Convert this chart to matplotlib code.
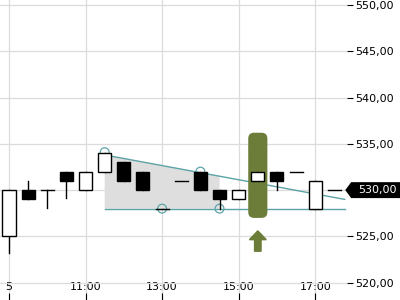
import numpy as np
import matplotlib
matplotlib.use("Agg")
import matplotlib.pyplot as plt
from matplotlib.patches import Rectangle, FancyBboxPatch, FancyArrow, Polygon
import matplotlib.transforms as mtransforms

matplotlib.rcParams.update({'font.size': 8})

# candles, half-hour bars (time in hours)
times = [9.0, 9.5, 10.0, 10.5, 11.0, 11.5, 12.0, 12.5, 13.0, 13.5, 14.0, 14.5, 15.0, 15.5, 16.0, 16.5, 17.0, 17.5]
opens = [525, 530, 530, 532, 530, 532, 533, 532, 528, 531, 532, 530, 529, 531, 532, 532, 528, 530]
highs = [530, 531, 530, 532, 532, 534, 533, 532, 528, 531, 532, 530, 530, 532, 532, 532, 531, 530]
lows = [523.2, 529, 528.1, 529.1, 530, 532, 531, 530, 528, 531, 530, 528, 529, 531, 530, 532, 528, 530]
closes = [530, 529, 530, 531, 532, 534, 531, 530, 528, 531, 530, 529, 530, 532, 531, 532, 531, 530]

# triangle pattern
pattern_start = 11.5
pattern_end = 14.5
line_end = 17.77
top_start = 533.8
top_end = 529.0
support = 528.0
touch_times = [11.5, 13.0, 14.0, 14.5]
touch_values = [534.1, 528.0, 532.0, 528.0]

# breakout signal
signal_time = 15.5
signal_top = 536.2
signal_bottom = 527.0
arrow_top = 525.6
arrow_bottom = 523.4

last_price = 530.0
xtick_pos = [9, 11, 13, 15, 17]
xtick_labels = ["5", "11:00", "13:00", "15:00", "17:00"]
ytick_pos = [520, 525, 530, 535, 540, 545, 550]

teal = "#5ba3a6"
olive = "#6b7d39"


def fmt(v):
    return f"{v:.2f}".replace(".", ",")


fig = plt.figure(figsize=(4, 3), dpi=100)
ax = fig.add_axes([0, 0, 347 / 400, 1])
ax.set_xlim(8.765, 17.83)
ax.set_ylim(518.13, 550.54)

ax.grid(True, color="#dcdcdc", linewidth=0.9)
ax.set_axisbelow(True)
for s in ax.spines.values():
    s.set_visible(False)

# pattern shading and lines
slope = (top_end - top_start) / (line_end - pattern_start)
top_at_end = top_start + slope * (pattern_end - pattern_start)
ax.add_patch(Polygon([(pattern_start, support), (pattern_start, top_start),
                      (pattern_end, top_at_end), (pattern_end, support)],
                     closed=True, facecolor="#dedede", edgecolor="none", zorder=1))
ax.plot([pattern_start, line_end], [top_start, top_end], color=teal, lw=1, zorder=2)
ax.plot([pattern_start, line_end], [support, support], color=teal, lw=1, zorder=2)

# signal bar and arrow
w = 0.5
ax.add_patch(FancyBboxPatch((signal_time - w / 2, signal_bottom), w, signal_top - signal_bottom,
                            boxstyle="round,pad=0,rounding_size=0.15", mutation_aspect=4.2,
                            facecolor=olive, edgecolor="none", zorder=2))
ax.add_patch(FancyArrow(signal_time, arrow_bottom, 0, arrow_top - arrow_bottom,
                        width=0.17, head_width=0.44, head_length=0.95,
                        length_includes_head=True, color=olive, zorder=2))

# touch circles (behind the candles)
ax.scatter(touch_times, touch_values, s=40, facecolors="none", edgecolors=teal, lw=0.9, zorder=2.5)

# candles
cw = 0.34
for t, o, h, l, c in zip(times, opens, highs, lows, closes):
    ax.plot([t, t], [l, h], color="black", lw=1, zorder=3)
    if o == c:
        ax.plot([t - cw / 2, t + cw / 2], [o, o], color="black", lw=1, zorder=4)
    else:
        fc = "white" if c > o else "black"
        ax.add_patch(Rectangle((t - cw / 2, min(o, c)), cw, abs(c - o),
                               facecolor=fc, edgecolor="black", lw=1, zorder=4))

# axes
ax.set_xticks(xtick_pos)
ax.set_xticklabels(xtick_labels)
ax.tick_params(axis="x", direction="in", length=5, pad=-13, colors="black")
ax.yaxis.tick_right()
ax.set_yticks(ytick_pos)
# the price tag sits over the label of the last price
ax.set_yticklabels(["" if v == last_price else fmt(v) for v in ytick_pos])
ax.tick_params(axis="y", length=4, pad=2)

# last price tag
trans = mtransforms.blended_transform_factory(ax.transAxes, ax.transData)
h = 0.86
tag = Polygon([(0.995, last_price), (1.012, last_price + h), (1.2, last_price + h),
               (1.2, last_price - h), (1.012, last_price - h)],
              closed=True, transform=trans, facecolor="black", edgecolor="none",
              clip_on=False, zorder=10)
ax.add_patch(tag)
ax.text(1.087, last_price, fmt(last_price), transform=trans,
        color="white", ha="center", va="center", zorder=11, clip_on=False)

fig.savefig("out.png", dpi=100)
